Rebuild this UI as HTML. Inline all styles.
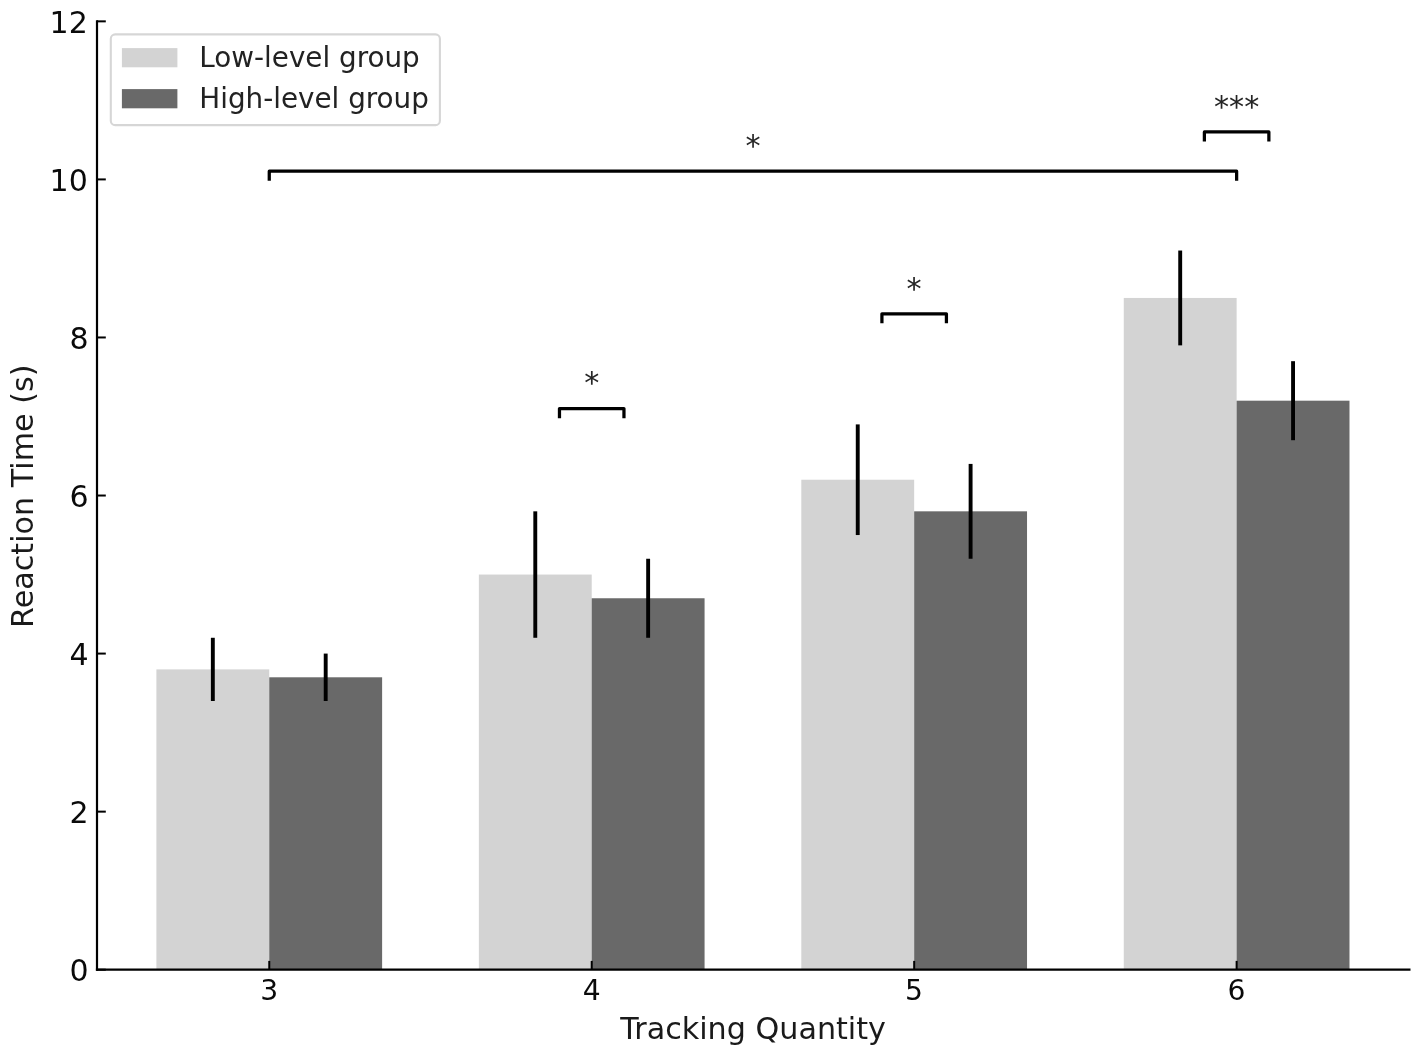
<!DOCTYPE html>
<html lang="en"><head><meta charset="utf-8"><title>Reaction Time by Tracking Quantity</title>
<style>html,body{margin:0;padding:0;background:#fff;}body{width:1418px;height:1054px;overflow:hidden;}svg{display:block;}text{font-family:"DejaVu Sans", "Liberation Sans", sans-serif;}</style></head><body>
<svg width="1418" height="1054" viewBox="0 0 1418 1054">
<rect x="0" y="0" width="1418" height="1054" fill="#ffffff"/>
<g shape-rendering="auto">
<rect x="156.40" y="669.39" width="112.86" height="300.31" fill="#d3d3d3"/>
<rect x="269.26" y="677.29" width="112.86" height="292.41" fill="#696969"/>
<rect x="478.85" y="574.55" width="112.86" height="395.15" fill="#d3d3d3"/>
<rect x="591.71" y="598.26" width="112.86" height="371.44" fill="#696969"/>
<rect x="801.31" y="479.72" width="112.86" height="489.98" fill="#d3d3d3"/>
<rect x="914.17" y="511.33" width="112.86" height="458.37" fill="#696969"/>
<rect x="1123.77" y="297.95" width="112.86" height="671.75" fill="#d3d3d3"/>
<rect x="1236.63" y="400.69" width="112.86" height="569.01" fill="#696969"/>
</g>
<g stroke="#000" stroke-width="3.90" stroke-linecap="butt">
<line x1="212.83" y1="637.78" x2="212.83" y2="701.00"/>
<line x1="325.69" y1="653.58" x2="325.69" y2="701.00"/>
<line x1="535.28" y1="511.33" x2="535.28" y2="637.78"/>
<line x1="648.14" y1="558.75" x2="648.14" y2="637.78"/>
<line x1="857.74" y1="424.40" x2="857.74" y2="535.04"/>
<line x1="970.60" y1="463.91" x2="970.60" y2="558.75"/>
<line x1="1180.20" y1="250.53" x2="1180.20" y2="345.37"/>
<line x1="1293.06" y1="361.18" x2="1293.06" y2="440.20"/>
</g>
<g stroke="#000" stroke-width="2.00" stroke-linecap="butt">
<line x1="269.26" y1="969.70" x2="269.26" y2="960.90"/>
<line x1="591.71" y1="969.70" x2="591.71" y2="960.90"/>
<line x1="914.17" y1="969.70" x2="914.17" y2="960.90"/>
<line x1="1236.63" y1="969.70" x2="1236.63" y2="960.90"/>
<line x1="97.00" y1="969.70" x2="105.80" y2="969.70"/>
<line x1="97.00" y1="811.64" x2="105.80" y2="811.64"/>
<line x1="97.00" y1="653.58" x2="105.80" y2="653.58"/>
<line x1="97.00" y1="495.53" x2="105.80" y2="495.53"/>
<line x1="97.00" y1="337.47" x2="105.80" y2="337.47"/>
<line x1="97.00" y1="179.41" x2="105.80" y2="179.41"/>
<line x1="97.00" y1="21.35" x2="105.80" y2="21.35"/>
</g>
<g stroke="#000" stroke-width="2.20" stroke-linecap="square" fill="none">
<line x1="97.00" y1="21.35" x2="97.00" y2="969.70"/>
<line x1="97.00" y1="969.70" x2="1409.40" y2="969.70"/>
</g>
<g fill="#0a0a0a" font-size="28.20px">
<text x="269.16" y="999.90" text-anchor="middle">3</text>
<text x="591.61" y="999.90" text-anchor="middle">4</text>
<text x="914.07" y="999.90" text-anchor="middle">5</text>
<text x="1236.53" y="999.90" text-anchor="middle">6</text>
</g>
<g fill="#0a0a0a" font-size="30.00px">
<text x="88.60" y="980.90" text-anchor="end">0</text>
<text x="88.60" y="822.84" text-anchor="end">2</text>
<text x="88.60" y="664.78" text-anchor="end">4</text>
<text x="88.60" y="506.73" text-anchor="end">6</text>
<text x="88.60" y="348.67" text-anchor="end">8</text>
<text x="87.80" y="190.61" text-anchor="end">10</text>
<text x="87.80" y="32.55" text-anchor="end">12</text>
</g>
<text x="753.10" y="1038.60" text-anchor="middle" font-size="30.20px" fill="#1a1a1a">Tracking Quantity</text>
<text transform="translate(32.50,496.20) rotate(-90)" text-anchor="middle" font-size="30.20px" fill="#1a1a1a">Reaction Time (s)</text>
<path d="M559.47 416.50 L559.47 408.59 L623.96 408.59 L623.96 416.50" fill="none" stroke="#000" stroke-width="3.25" stroke-linecap="square" stroke-linejoin="round"/>
<text x="591.71" y="393.29" text-anchor="middle" font-size="30.20px" fill="#262626">*</text>
<path d="M881.92 321.66 L881.92 313.76 L946.42 313.76 L946.42 321.66" fill="none" stroke="#000" stroke-width="3.25" stroke-linecap="square" stroke-linejoin="round"/>
<text x="914.17" y="299.06" text-anchor="middle" font-size="30.20px" fill="#262626">*</text>
<path d="M1204.38 139.89 L1204.38 131.99 L1268.87 131.99 L1268.87 139.89" fill="none" stroke="#000" stroke-width="3.25" stroke-linecap="square" stroke-linejoin="round"/>
<text x="1236.63" y="116.69" text-anchor="middle" font-size="30.20px" fill="#262626">***</text>
<path d="M269.26 179.11 L269.26 171.21 L1236.63 171.21 L1236.63 179.11" fill="none" stroke="#000" stroke-width="3.25" stroke-linecap="square" stroke-linejoin="round"/>
<text x="752.94" y="155.61" text-anchor="middle" font-size="30.20px" fill="#262626">*</text>
<rect x="110.80" y="34.35" width="329.10" height="90.75" rx="4.4" ry="4.4" fill="#ffffff" fill-opacity="0.8" stroke="#cccccc" stroke-opacity="0.8" stroke-width="2.1"/>
<rect x="121.90" y="48.10" width="55.50" height="19.20" fill="#d3d3d3"/>
<rect x="121.90" y="89.10" width="55.50" height="19.20" fill="#696969"/>
<text x="199.30" y="67.30" font-size="27.80px" fill="#222222">Low-level group</text>
<text x="199.30" y="108.30" font-size="27.80px" fill="#222222">High-level group</text>
</svg>
</body></html>
